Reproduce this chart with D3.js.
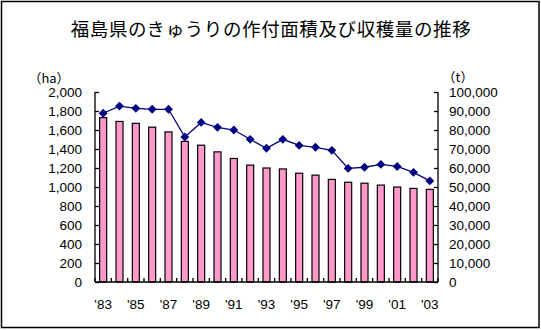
<!DOCTYPE html>
<html>
<head>
<meta charset="utf-8">
<script src="https://cdn.jsdelivr.net/npm/d3@7"></script>
<style>
  body { margin: 0; background: #fff; }
  svg { display: block; }
  text { font-family: "Liberation Sans", Arial, sans-serif; fill: #000; }
</style>
</head>
<body>
<svg id="chart" width="541" height="330"></svg>
<script>
const title = "福島県のきゅうりの作付面積及び収穫量の推移";
const years = [1983,1984,1985,1986,1987,1988,1989,1990,1991,1992,1993,1994,1995,1996,1997,1998,1999,2000,2001,2002,2003];
const area = [1730,1690,1670,1630,1580,1480,1440,1370,1300,1230,1200,1190,1145,1125,1080,1050,1040,1020,1000,985,975];
const harvest = [88800,92600,91400,90900,90900,76300,84000,81400,80000,75100,70400,75100,71900,70900,69300,59800,60400,61900,60800,57700,53200];
const leftTicks = [0,200,400,600,800,1000,1200,1400,1600,1800,2000];
const rightTicks = [0,10000,20000,30000,40000,50000,60000,70000,80000,90000,100000];
const leftUnit = "（ha）";
const rightUnit = "（t）";

const svg = d3.select("#chart");
const plot = {left: 95, right: 438, top: 92, bottom: 282};

// outer frame
svg.append("rect").attr("x", 1.5).attr("y", 1.5).attr("width", 537.5).attr("height", 326)
  .attr("fill", "none").attr("stroke", "#000").attr("stroke-width", 1.5);

// title
svg.append("text").attr("x", 271).attr("y", 36).attr("text-anchor", "middle")
  .style("font-family", "'Noto Sans CJK JP', sans-serif").style("font-size", "18.5px")
  .style("letter-spacing", "0.6px")
  .text(title);

const x = d3.scaleBand().domain(years).range([plot.left, plot.right]).padding(0);
const yL = d3.scaleLinear().domain([0, 2000]).range([plot.bottom, plot.top]);
const yR = d3.scaleLinear().domain([0, 100000]).range([plot.bottom, plot.top]);
const barW = x.bandwidth() * 0.43;

// bars
svg.append("g").selectAll("rect").data(years).join("rect")
  .attr("x", (d) => x(d) + x.bandwidth() / 2 - barW / 2)
  .attr("y", (d, i) => yL(area[i]))
  .attr("width", barW)
  .attr("height", (d, i) => yL(0) - yL(area[i]))
  .attr("fill", "#FF99CC").attr("stroke", "#000").attr("stroke-width", 1.2);

// left axis
const axL = svg.append("g").attr("transform", `translate(${plot.left},0)`)
  .call(d3.axisRight(yL).tickValues(leftTicks).tickSize(4).tickFormat(""));
axL.select(".domain").attr("d", `M0,${plot.top}V${plot.bottom}`);
axL.selectAll("line, path").attr("stroke", "#000").attr("stroke-width", 1.3);
svg.append("g").selectAll("text").data(leftTicks).join("text")
  .attr("x", 82).attr("y", (d) => yL(d) + 5).attr("text-anchor", "end")
  .style("font-size", "13.5px").text((d) => d3.format(",")(d));

// right axis
const axR = svg.append("g").attr("transform", `translate(${plot.right},0)`)
  .call(d3.axisLeft(yR).tickValues(rightTicks).tickSize(4).tickFormat(""));
axR.select(".domain").attr("d", `M0,${plot.top}V${plot.bottom}`);
axR.selectAll("line, path").attr("stroke", "#000").attr("stroke-width", 1.3);
svg.append("g").selectAll("text").data(rightTicks).join("text")
  .attr("x", 449).attr("y", (d) => yR(d) + 5).attr("text-anchor", "start")
  .style("font-size", "13.5px").text((d) => d3.format(",")(d));

// bottom axis
const boundaries = years.map((d) => x(d)).concat([plot.right]);
svg.append("line").attr("x1", plot.left).attr("x2", plot.right)
  .attr("y1", plot.bottom).attr("y2", plot.bottom).attr("stroke", "#000").attr("stroke-width", 1.3);
svg.append("g").selectAll("line").data(boundaries).join("line")
  .attr("x1", (d) => d).attr("x2", (d) => d)
  .attr("y1", plot.bottom).attr("y2", plot.bottom - 4)
  .attr("stroke", "#000").attr("stroke-width", 1.3);
svg.append("g").selectAll("text").data(years.filter((d, i) => i % 2 === 0)).join("text")
  .attr("x", (d) => x(d) + x.bandwidth() / 2).attr("y", 309).attr("text-anchor", "middle")
  .style("font-size", "13.5px").text((d) => "'" + String(d).slice(2));

// units
svg.append("text").attr("x", 49).attr("y", 83).attr("text-anchor", "middle")
  .style("font-size", "13px").style("font-family", "'Noto Sans CJK JP', sans-serif").text(leftUnit);
svg.append("text").attr("x", 458).attr("y", 82).attr("text-anchor", "middle")
  .style("font-size", "13px").style("font-family", "'Noto Sans CJK JP', sans-serif").text(rightUnit);

// line
const line = d3.line().x((d, i) => x(years[i]) + x.bandwidth() / 2).y((d) => yR(d));
svg.append("path").datum(harvest).attr("d", line)
  .attr("fill", "none").attr("stroke", "#000080").attr("stroke-width", 1.3);
svg.append("g").selectAll("path").data(harvest).join("path")
  .attr("transform", (d, i) => `translate(${x(years[i]) + x.bandwidth() / 2},${yR(d)})`)
  .attr("d", d3.symbol(d3.symbolDiamond2, 50))
  .attr("fill", "#000080");
</script>
</body>
</html>
